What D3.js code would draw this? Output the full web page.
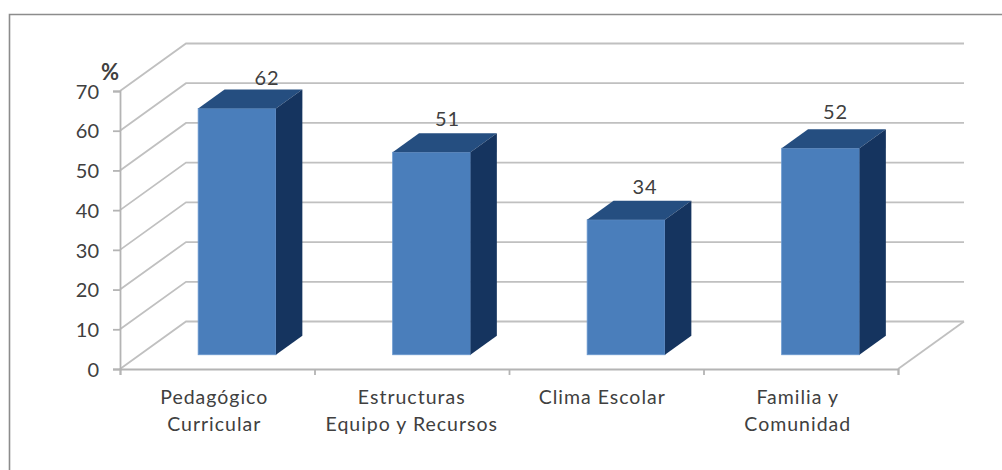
<!DOCTYPE html>
<html>
<head>
<meta charset="utf-8">
<script src="https://cdn.jsdelivr.net/npm/d3@7"></script>
<style>
  html, body { margin: 0; background: #fff; overflow: hidden; }
  text { font-family: Lato, "Open Sans", sans-serif; fill: #404040; }
</style>
</head>
<body>
<svg width="1002" height="470"></svg>
<script>
const categories = [["Pedagógico", "Curricular"], ["Estructuras", "Equipo y Recursos"], ["Clima Escolar"], ["Familia y", "Comunidad"]];
const values = [62, 51, 34, 52];
const yTicks = [0, 10, 20, 30, 40, 50, 60, 70];

// data labels and category names don't sit centred on the bars
const labelDx = [30, 16, 19, 15];
const labelDy = [-5, -7, -7, -10];
const catDx = [-3, 0, -4, -3];

const svg = d3.select("svg");

const plotLeft = 120, plotRight = 898, plotBottom = 369, plotTop = 91;
const wallDx = 66, wallDy = -47.5;   // floor depth
const barOffset = 0.3, barDepth = 0.4;   // share of floor depth
const gridColor = "#c0c0c0";

const x = d3.scaleBand().domain(d3.range(categories.length)).range([plotLeft, plotRight]).paddingInner(0).paddingOuter(0);
const y = d3.scaleLinear().domain([0, 70]).range([plotBottom, plotTop]);
const barWidth = x.bandwidth() * 0.4;

// frame around the chart
svg.append("path")
  .attr("d", "M9.5,470V14.5H1002")
  .attr("fill", "none")
  .attr("stroke", "#8c8c8c")
  .attr("stroke-width", 1.6);

// back wall gridlines plus the diagonal on the side wall
const grid = svg.append("g").attr("fill", "none").attr("stroke", gridColor).attr("stroke-width", 1.8);
grid.selectAll("path").data(yTicks).enter().append("path")
  .attr("d", d => `M${plotLeft},${y(d)}L${plotLeft + wallDx},${y(d) + wallDy}H${plotRight + wallDx}`);
grid.append("path")
  .attr("d", `M${plotRight},${plotBottom}L${plotRight + wallDx},${plotBottom + wallDy}`);

// axes
const yAxis = d3.axisLeft(y).tickValues(yTicks).tickSize(7).tickPadding(14);
const gy = svg.append("g").attr("transform", `translate(${plotLeft},0)`).call(yAxis);
gy.selectAll("text").style("font-size", "20px").attr("dy", "0.36em");

const xEdges = d3.scaleLinear().domain([0, categories.length]).range([plotLeft, plotRight]);
const xAxis = d3.axisBottom(xEdges).ticks(categories.length).tickSize(6).tickFormat("");
svg.append("g").attr("transform", `translate(0,${plotBottom})`).call(xAxis);

svg.selectAll(".domain, .tick line")
  .attr("stroke", "#b4b4b4")
  .attr("stroke-width", 1.8);

// bars: front, top and side faces
const bars = svg.selectAll("g.bar").data(values).enter().append("g").attr("class", "bar");

const fx = i => x(i) + x.bandwidth() / 2 - barWidth / 2 + wallDx * barOffset;
const base = plotBottom + wallDy * barOffset;
const barH = d => y(0) - y(d);
const ddx = wallDx * barDepth, ddy = wallDy * barDepth;

bars.append("rect")
  .attr("x", (d, i) => fx(i))
  .attr("y", d => base - barH(d))
  .attr("width", barWidth)
  .attr("height", d => barH(d))
  .attr("fill", "#4a7ebb")
  .attr("stroke", "#6a98cf")
  .attr("stroke-width", 0.8);

bars.append("path")
  .attr("d", (d, i) => {
    const t = base - barH(d), l = fx(i);
    return `M${l},${t}l${ddx},${ddy}h${barWidth}l${-ddx},${-ddy}Z`;
  })
  .attr("fill", "#254e80");

bars.append("path")
  .attr("d", (d, i) => {
    const t = base - barH(d), r = fx(i) + barWidth;
    return `M${r},${t}l${ddx},${ddy}V${base + ddy}L${r},${base}Z`;
  })
  .attr("fill", "#15345f");

// values above the bars
svg.selectAll("text.value").data(values).enter().append("text")
  .attr("class", "value")
  .attr("text-anchor", "middle")
  .attr("x", (d, i) => fx(i) + barWidth / 2 + labelDx[i])
  .attr("y", (d, i) => base - barH(d) + ddy + labelDy[i])
  .style("font-size", "20px")
  .style("letter-spacing", "1px")
  .text(d => d);

// category names
const catLabels = svg.selectAll("text.cat").data(categories).enter().append("text")
  .attr("class", "cat")
  .attr("text-anchor", "middle")
  .style("font-size", "19.5px")
  .style("letter-spacing", "1px");
catLabels.selectAll("tspan").data((d, i) => d.map(s => ({ s, i }))).enter().append("tspan")
  .attr("x", d => x(d.i) + x.bandwidth() / 2 + catDx[d.i])
  .attr("y", (d, j) => 404 + j * 27)
  .text(d => d.s);

svg.append("text")
  .attr("x", 110)
  .attr("y", 80)
  .attr("text-anchor", "middle")
  .style("font-size", "22px")
  .style("font-weight", "bold")
  .text("%");
</script>
</body>
</html>
